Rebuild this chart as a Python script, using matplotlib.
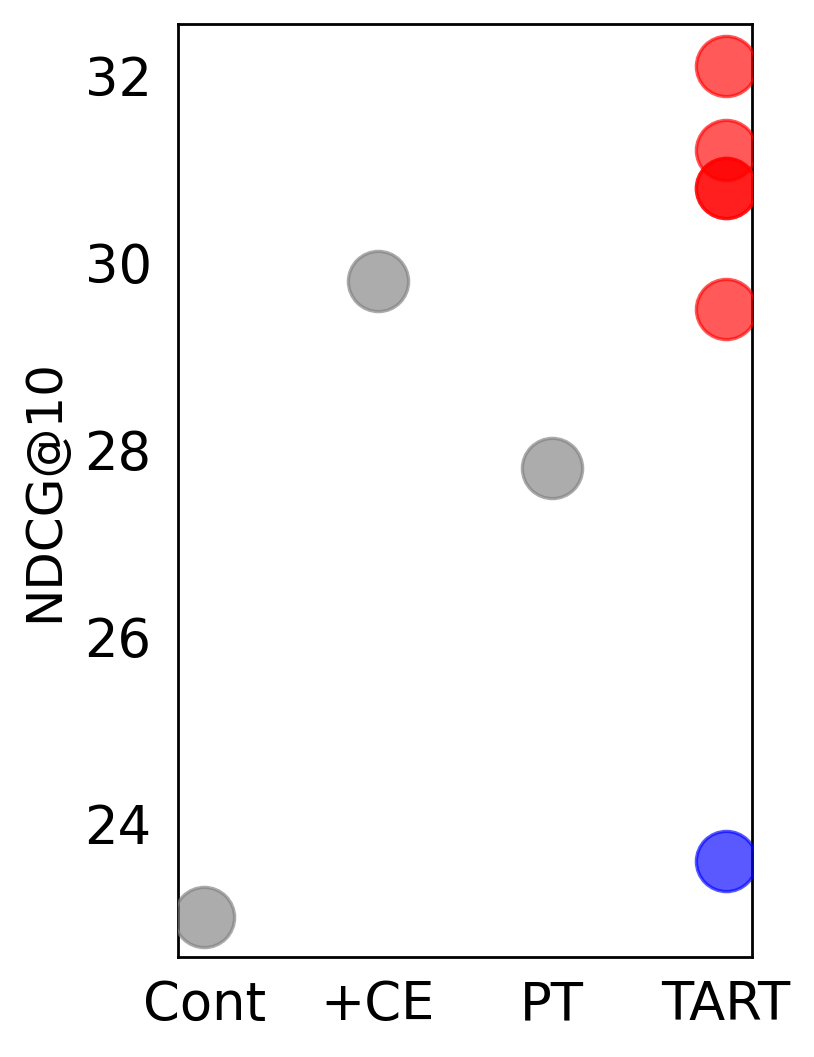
import matplotlib
matplotlib.use("Agg")
import matplotlib.pyplot as plt

categories = ["Cont", "+CE", "PT", "TART"]
gray_x = ["Cont", "+CE", "PT"]
gray_y = [23.0, 29.8, 27.8]
red_x = ["TART", "TART", "TART", "TART", "TART"]
red_y = [32.1, 31.2, 30.8, 30.8, 29.5]
blue_x = ["TART"]
blue_y = [23.6]
yticks = [24, 26, 28, 30, 32]

fig = plt.figure(figsize=(4.07, 5.285), dpi=200)
ax = fig.add_axes([0.2187, 0.0946, 0.9238 - 0.2187, 0.9773 - 0.0946])

pos = {c: i for i, c in enumerate(categories)}
kw = dict(s=470, alpha=0.65, linewidths=1.2, zorder=3)
ax.scatter([pos[c] for c in gray_x], gray_y, color="gray", edgecolors="gray", **kw)
ax.scatter([pos[c] for c in red_x], red_y, color="red", edgecolors="red", **kw)
ax.scatter([pos[c] for c in blue_x], blue_y, color="blue", edgecolors="blue", **kw)

ax.set_xticks(range(len(categories)))
ax.set_xticklabels(categories)
ax.set_yticks(yticks)
ax.set_xlim(-0.15, 3.15)
ax.set_ylim(22.57, 32.55)
ax.tick_params(axis="x", length=0, labelsize=19, pad=8)
ax.tick_params(axis="y", length=0, labelsize=19, pad=9.5)
ax.set_ylabel("NDCG@10", fontsize=18, labelpad=6)
for s in ax.spines.values():
    s.set_linewidth(1.0)

fig.savefig("out.png", dpi=200)
